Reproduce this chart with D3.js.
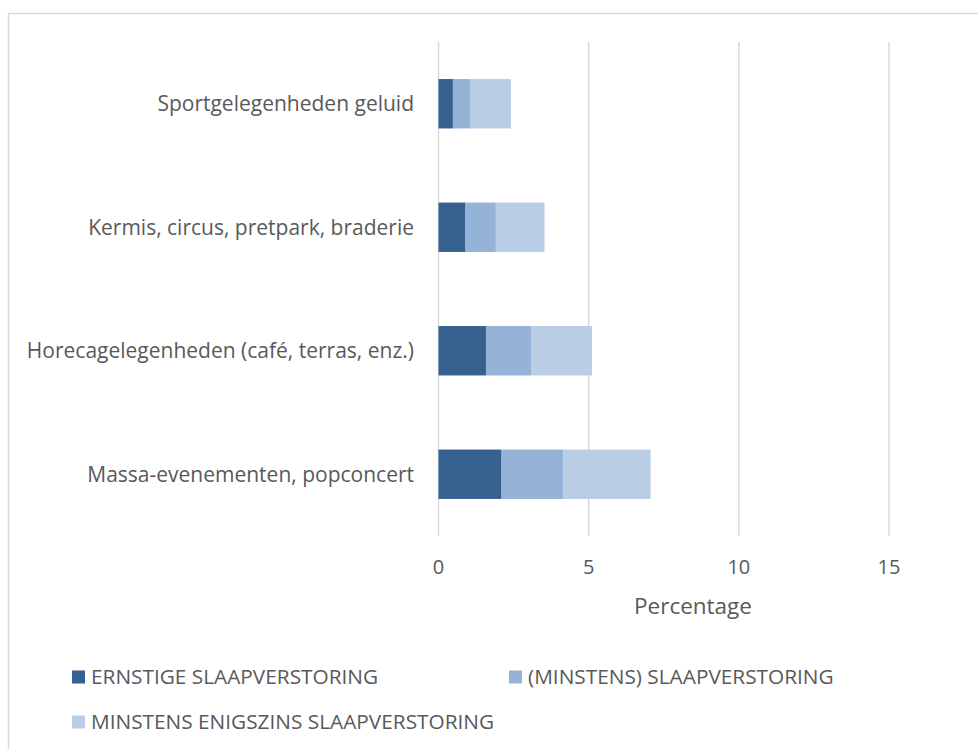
<!DOCTYPE html>
<html>
<head>
<meta charset="utf-8">
<script src="https://cdn.jsdelivr.net/npm/d3@7"></script>
<style>
  body { margin: 0; background: #fff; }
  text { font-family: "Open Sans", "Noto Sans", sans-serif; fill: #595959; }
</style>
</head>
<body>
<div id="chart"></div>
<script>
// categories, top to bottom
var categories = [
  'Sportgelegenheden geluid',
  'Kermis, circus, pretpark, braderie',
  'Horecagelegenheden (café, terras, enz.)',
  'Massa-evenementen, popconcert'
];
var seriesNames = ['ERNSTIGE SLAAPVERSTORING', '(MINSTENS) SLAAPVERSTORING', 'MINSTENS ENIGSZINS SLAAPVERSTORING'];
var ernstig = [0.48, 0.9, 1.58, 2.1];
var minstens = [0.59, 1.01, 1.52, 2.06];
var enigszins = [1.34, 1.62, 2.01, 2.9];
var xTicks = [0, 5, 10, 15];
var colors = ['#35608f', '#95b3d7', '#b9cde5'];

var width = 978, height = 749;
var svg = d3.select('#chart').append('svg')
  .attr('width', width)
  .attr('height', height);

// chart area border
svg.append('rect')
  .attr('x', 8.5).attr('y', 13.5)
  .attr('width', width).attr('height', height)
  .attr('fill', 'none')
  .attr('stroke', '#d9d9d9')
  .attr('stroke-width', 1.5);

var x = d3.scaleLinear().domain([0, 15]).range([438.5, 889]);
var y = d3.scaleBand().domain(categories).range([42, 536])
  .paddingInner(0.6).paddingOuter(0.3);

// gridlines
svg.append('g').selectAll('line')
  .data(xTicks)
  .join('line')
  .attr('x1', d => x(d)).attr('x2', d => x(d))
  .attr('y1', 42).attr('y2', 536)
  .attr('stroke', '#d9d9d9')
  .attr('stroke-width', 1.5);

var table = categories.map((c, i) => ({ cat: c, s0: ernstig[i], s1: minstens[i], s2: enigszins[i] }));
var stacked = d3.stack().keys(['s0', 's1', 's2'])(table);

svg.append('g').selectAll('g')
  .data(stacked)
  .join('g')
  .attr('fill', (d, i) => colors[i])
  .selectAll('rect')
  .data(d => d)
  .join('rect')
  .attr('x', d => x(d[0]))
  .attr('width', d => x(d[1]) - x(d[0]))
  .attr('y', d => y(d.data.cat))
  .attr('height', y.bandwidth());

// category labels
svg.append('g').selectAll('text')
  .data(categories)
  .join('text')
  .attr('x', 414)
  .attr('y', d => y(d) + y.bandwidth() / 2)
  .attr('dy', '0.35em')
  .attr('text-anchor', 'end')
  .attr('font-size', '21px')
  .text(d => d);

// x tick labels
svg.append('g').selectAll('text')
  .data(xTicks)
  .join('text')
  .attr('x', d => x(d))
  .attr('y', 567)
  .attr('dy', '0.35em')
  .attr('text-anchor', 'middle')
  .attr('font-size', '20px')
  .text(d => d);

// axis title, centred on the plot area (which reaches past the last gridline)
svg.append('text')
  .attr('x', 693)
  .attr('y', 606)
  .attr('dy', '0.35em')
  .attr('text-anchor', 'middle')
  .attr('font-size', '22.5px')
  .text('Percentage');

// legend
var legendPos = [[72, 677], [509, 677], [72, 722]];
var legend = svg.append('g').selectAll('g')
  .data(seriesNames)
  .join('g')
  .attr('transform', (d, i) => 'translate(' + legendPos[i][0] + ',' + legendPos[i][1] + ')');
legend.append('rect')
  .attr('x', 0).attr('y', -6.5)
  .attr('width', 13).attr('height', 13)
  .attr('fill', (d, i) => colors[i]);
legend.append('text')
  .attr('x', 19)
  .attr('dy', '0.35em')
  .attr('font-size', '20.8px')
  .text(d => d);
</script>
</body>
</html>
